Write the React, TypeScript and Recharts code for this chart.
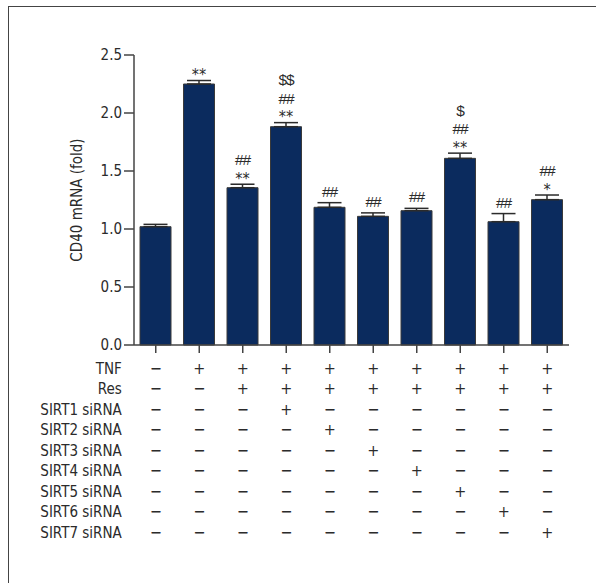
import React from "react";
import { BarChart, Bar, XAxis, YAxis, ErrorBar, LabelList } from "recharts";

// CD40 mRNA fold change per treatment group (mean, SEM)
const groups = ["g1", "g2", "g3", "g4", "g5", "g6", "g7", "g8", "g9", "g10"];
const cd40Fold = [1.02, 2.25, 1.356, 1.882, 1.187, 1.109, 1.158, 1.609, 1.063, 1.253];
const sem = [0.02, 0.03, 0.03, 0.035, 0.04, 0.03, 0.02, 0.045, 0.07, 0.04];

// significance marks, listed bottom to top
const marks: string[][] = [
  [],
  ["**"],
  ["**", "##"],
  ["**", "##", "$$"],
  ["##"],
  ["##"],
  ["##"],
  ["**", "##", "$"],
  ["##"],
  ["*", "##"],
];

// treatment table under the axis
const tnf = [0, 1, 1, 1, 1, 1, 1, 1, 1, 1];
const res = [0, 0, 1, 1, 1, 1, 1, 1, 1, 1];
const sirtKnockdown = [0, 0, 0, 1, 2, 3, 4, 5, 6, 7];
const rowLabels = [
  "TNF",
  "Res",
  "SIRT1 siRNA",
  "SIRT2 siRNA",
  "SIRT3 siRNA",
  "SIRT4 siRNA",
  "SIRT5 siRNA",
  "SIRT6 siRNA",
  "SIRT7 siRNA",
];
const yTicks = [0, 0.5, 1, 1.5, 2, 2.5];

const FONT = '"DejaVu Sans Condensed", "Liberation Sans", sans-serif';
const MARK_FONT = '"Liberation Sans", Arial, sans-serif';
const INK = "#2b2b2b";
const AXIS = "#444";
const NAVY = "#0b2b5e";

const data = groups.map((g, i) => ({ group: g, fold: cd40Fold[i], err: [0, sem[i]] }));

function conditionFlags(i: number): boolean[] {
  const sirt = [1, 2, 3, 4, 5, 6, 7].map((k) => sirtKnockdown[i] === k);
  return [tnf[i] === 1, res[i] === 1, ...sirt];
}

const ROW_FIRST = 15.3;
const ROW_STEP = 20.5;

const ConditionTick = (props: any) => {
  const { x, y, payload } = props;
  const i = groups.indexOf(payload.value);
  const flags = conditionFlags(i);
  const textProps = { fill: INK, fontSize: 15, fontFamily: FONT };
  return (
    <g>
      {i === 0 &&
        rowLabels.map((label, r) => (
          <text
            key={label}
            x={x - 34}
            y={y + ROW_FIRST + r * ROW_STEP + 5.5}
            textAnchor="end"
            {...textProps}
          >
            {label}
          </text>
        ))}
      {flags.map((on, r) => (
        <text
          key={r}
          x={x}
          y={y + ROW_FIRST + r * ROW_STEP + 5.5}
          textAnchor="middle"
          {...textProps}
          fontSize={16}
        >
          {on ? "+" : "−"}
        </text>
      ))}
    </g>
  );
};

const Marks = (props: any) => {
  const { x, y, width, height, index } = props;
  const lines = marks[index];
  if (!lines || lines.length === 0) return null;
  const pxPerUnit = height / cd40Fold[index];
  const capY = y - sem[index] * pxPerUnit;
  const cx = x + width / 2;
  const startsWithStar = lines[0].startsWith("*");
  const base = startsWithStar ? capY - 0.5 : capY - 6;
  return (
    <g>
      {lines.map((s, k) => {
        const star = s.startsWith("*");
        return (
          <text
            key={k}
            x={cx}
            y={base - k * 18.5}
            textAnchor="middle"
            fill={INK}
            fontSize={star ? 16 : 15.5}
            letterSpacing={star ? 0 : -1}
            fontFamily={star ? FONT : MARK_FONT}
          >
            {s}
          </text>
        );
      })}
    </g>
  );
};

export default function App() {
  return (
    <div
      style={{
        position: "absolute",
        left: 0,
        top: 0,
        width: 596,
        height: 583,
        overflow: "hidden",
        background: "#fff",
      }}
    >
      <div
        style={{
          position: "absolute",
          left: 8,
          top: 6,
          width: 588,
          height: 577,
          borderLeft: `1.5px solid ${AXIS}`,
          borderTop: `1.5px solid ${AXIS}`,
          boxSizing: "border-box",
        }}
      />
      <BarChart
        width={596}
        height={583}
        data={data}
        margin={{ top: 55, right: 27, bottom: 208, left: 20 }}
      >
        <YAxis
          width={114}
          domain={[0, 2.5]}
          ticks={yTicks}
          interval={0}
          tickFormatter={(v: number) => v.toFixed(1)}
          tickSize={10}
          tickMargin={2}
          axisLine={{ stroke: AXIS, strokeWidth: 1.5 }}
          tickLine={{ stroke: AXIS, strokeWidth: 1.5 }}
          tick={{ fill: INK, fontSize: 15, fontFamily: FONT }}
          label={{
            value: "CD40 mRNA (fold)",
            angle: -90,
            position: "center",
            fill: INK,
            fontSize: 15,
            fontFamily: FONT,
          }}
        />
        <XAxis
          dataKey="group"
          height={30}
          interval={0}
          tickSize={8}
          tickMargin={0}
          axisLine={{ stroke: AXIS, strokeWidth: 1.5 }}
          tickLine={{ stroke: AXIS, strokeWidth: 1.5 }}
          tick={ConditionTick}
        />
        <Bar
          dataKey="fold"
          fill={NAVY}
          stroke="#3a3a3a"
          strokeWidth={1}
          barSize={31}
          isAnimationActive={false}
        >
          <ErrorBar dataKey="err" width={12} stroke={INK} strokeWidth={1.5} direction="y" />
          <LabelList dataKey="fold" content={Marks} />
        </Bar>
      </BarChart>
    </div>
  );
}
